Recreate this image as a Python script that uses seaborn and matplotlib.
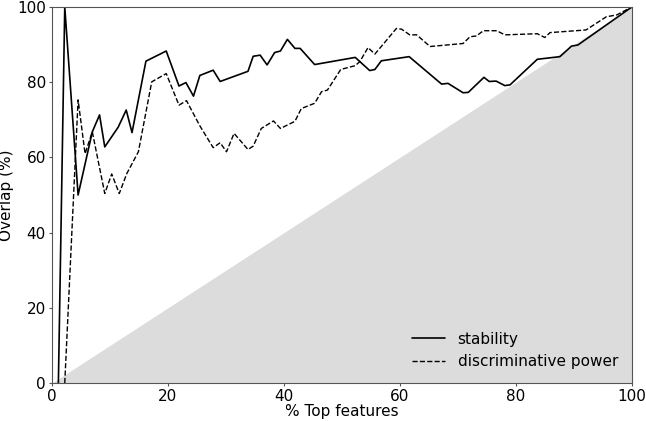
import numpy as np
import pandas as pd
import matplotlib
matplotlib.use("Agg")
import matplotlib.pyplot as plt
import seaborn as sns

sns.set_style("ticks")
plt.rcParams['font.family'] = ['DejaVu Sans']
plt.rcParams['text.color'] = 'black'
plt.rcParams['axes.labelcolor'] = 'black'
plt.rcParams['xtick.labelcolor'] = 'black'
plt.rcParams['ytick.labelcolor'] = 'black'

stab_x = [1.1, 2.2, 4.5, 6.95, 8.2, 9.1, 11.4, 12.8, 13.8, 16.2, 19.7, 21.9, 23.1, 24.4,
          25.5, 27.8, 29.0, 33.8, 34.7, 35.9, 37.1, 38.4, 39.4, 40.6, 41.9, 42.8, 45.3,
          52.3, 54.8, 55.7, 56.8, 61.6, 67.2, 68.3, 70.9, 71.8, 74.5, 75.4, 76.6, 78.1,
          79.0, 83.7, 87.6, 89.6, 90.7, 100.0]
stab_y = [0, 100, 50, 66.8, 71.3, 62.8, 68.0, 72.6, 66.6, 85.6, 88.3, 79.0, 79.9, 76.3,
          81.8, 83.2, 80.2, 82.9, 86.9, 87.2, 84.6, 87.9, 88.3, 91.4, 89.0, 89.0, 84.7,
          86.6, 83.1, 83.4, 85.7, 86.8, 79.5, 79.7, 77.2, 77.3, 81.3, 80.2, 80.3, 79.1,
          79.3, 86.1, 86.8, 89.6, 89.9, 100.0]

disc_x = [2.2, 4.5, 5.7, 6.95, 9.1, 10.3, 11.6, 12.9, 14.9, 17.2, 19.7, 21.9, 23.2, 25.5,
          27.8, 29.0, 30.1, 31.4, 33.8, 34.7, 36.1, 38.2, 39.4, 41.9, 43.0, 45.3, 46.5,
          47.5, 49.8, 52.3, 53.1, 54.5, 55.7, 59.4, 60.3, 61.7, 62.9, 65.2, 70.9, 72.1,
          73.2, 74.4, 76.7, 78.1, 83.7, 85.0, 85.9, 92.1, 95.6, 97.4, 100.0]
disc_y = [0, 75.3, 61.0, 66.8, 50.4, 55.6, 50.4, 55.7, 61.5, 80.1, 82.3, 73.9, 75.1, 68.4,
          62.6, 63.9, 61.5, 66.4, 62.1, 63.0, 67.7, 69.7, 67.7, 69.6, 73.0, 74.4, 77.5,
          77.9, 83.4, 84.4, 85.5, 89.2, 87.5, 94.3, 94.1, 92.6, 92.6, 89.5, 90.3, 92.1,
          92.3, 93.7, 93.7, 92.6, 92.9, 91.9, 93.2, 93.9, 97.4, 97.9, 100.0]

diag = [0, 100]

fig = plt.figure(figsize=(6.46, 4.21), dpi=100)
ax = fig.add_axes([0.0805, 0.0903, 0.8975, 0.8930])

ax.fill_between(diag, 0, diag, color="#dcdcdc", linewidth=0, zorder=0)

df_s = pd.DataFrame({"x": stab_x, "y": stab_y})
df_d = pd.DataFrame({"x": disc_x, "y": disc_y})
sns.lineplot(data=df_s, x="x", y="y", ax=ax, color="black", linewidth=1.2,
             label="stability", sort=False)
sns.lineplot(data=df_d, x="x", y="y", ax=ax, color="black", linewidth=1.0,
             linestyle="--", dashes=(3, 1.5), label="discriminative power", sort=False)

ax.set_xlim(0, 100)
ax.set_ylim(0, 100)
ax.set_xticks([0, 20, 40, 60, 80, 100])
ax.set_yticks([0, 20, 40, 60, 80, 100])
ax.set_xlabel("% Top features", fontsize=11, labelpad=0, color="black")
ax.set_ylabel("Overlap (%)", fontsize=11, labelpad=2, color="black")
ax.tick_params(labelsize=11, length=2.5, width=0.8, pad=2, color="#555555",
               labelcolor="black")
for s in ax.spines.values():
    s.set_color("#555555")
    s.set_linewidth(0.8)
    s.set_visible(True)
leg = ax.legend(loc="lower right", frameon=False, fontsize=11, handlelength=2.2)
for t in leg.get_texts():
    t.set_color("black")

fig.savefig("out.png", dpi=100)
